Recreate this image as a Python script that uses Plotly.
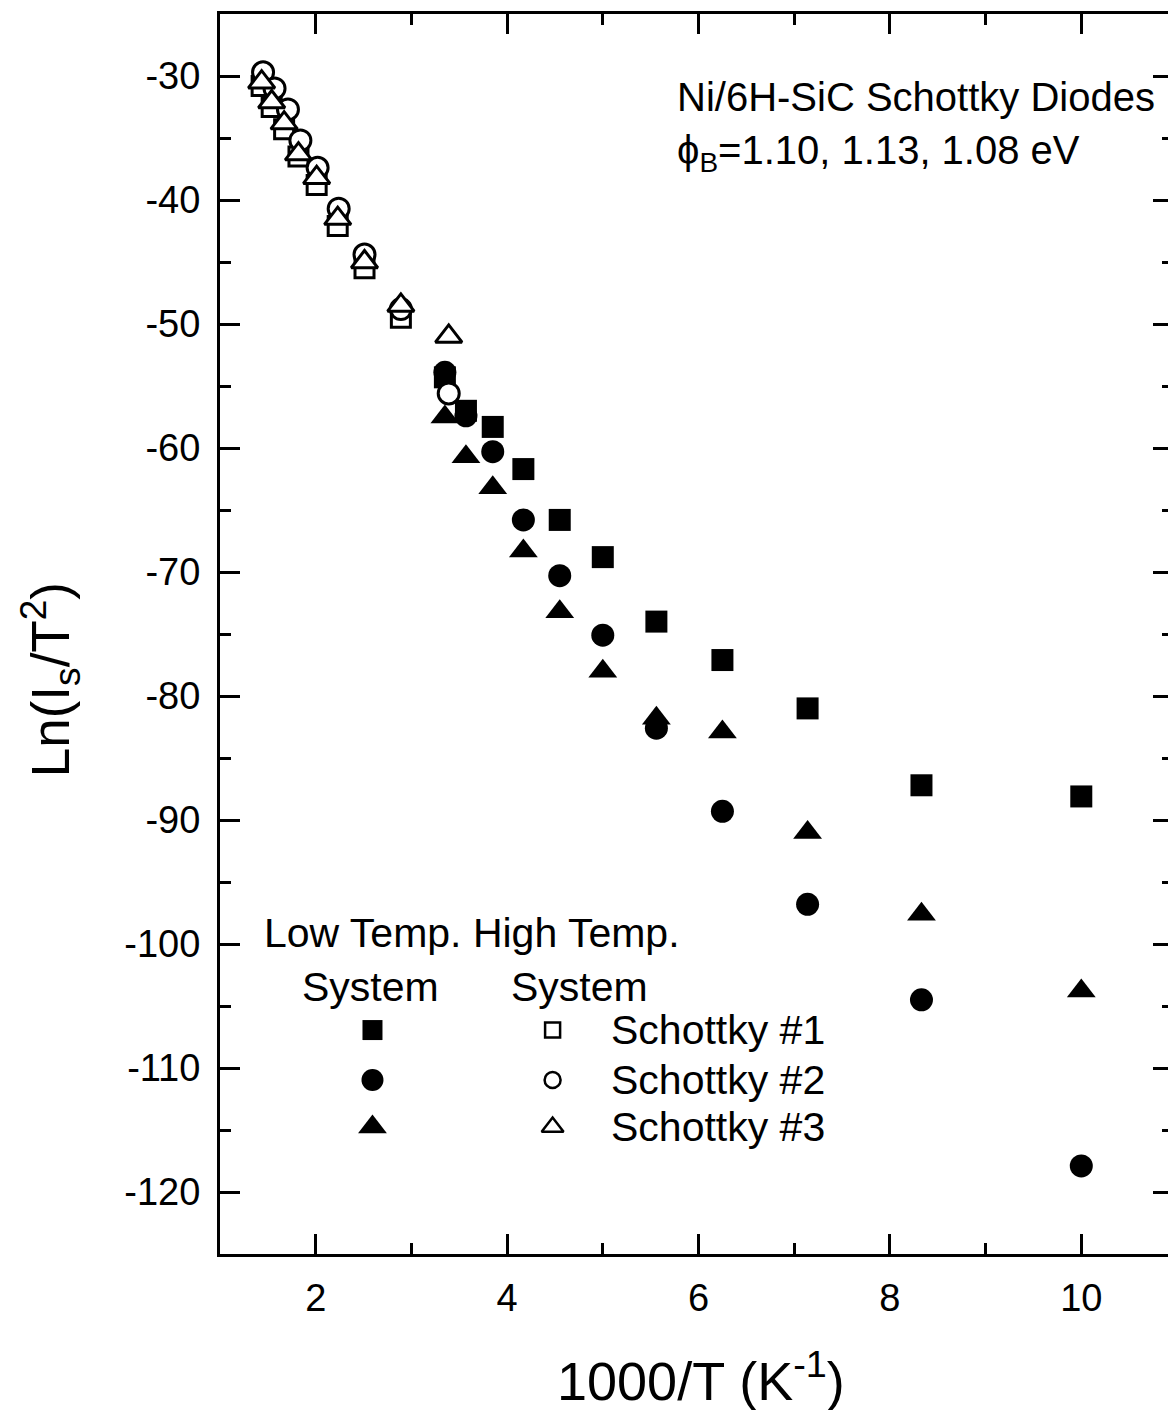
import plotly.graph_objects as go

# ---------------- data ----------------
# Low temperature system (filled symbols)
x_low = [3.35, 3.57, 3.85, 4.17, 4.55, 5.00, 5.56, 6.25, 7.14, 8.33, 10.00]
y_low_s1 = [-54.3, -57.0, -58.3, -61.7, -65.8, -68.8, -74.0, -77.1, -81.0, -87.2, -88.1]
y_low_s2 = [-53.9, -57.4, -60.3, -65.8, -70.3, -75.1, -82.6, -89.3, -96.8, -104.5, -117.9]
y_low_s3 = [-57.5, -60.7, -63.2, -68.3, -73.2, -78.0, -81.8, -82.9, -91.0, -97.6, -103.8]

# High temperature system (open symbols)
x_high_s1 = [1.435, 1.54, 1.67, 1.82, 2.01, 2.23, 2.51, 2.89]
y_high_s1 = [-30.8, -32.5, -34.3, -36.5, -38.8, -42.1, -45.5, -49.5]
x_high_s2 = [1.45, 1.57, 1.71, 1.84, 2.02, 2.24, 2.51, 2.89, 3.39]
y_high_s2 = [-29.7, -31.0, -32.7, -35.2, -37.4, -40.7, -44.4, -48.8, -55.6]
x_high_s3 = [1.435, 1.54, 1.67, 1.82, 2.01, 2.23, 2.51, 2.89, 3.39]
y_high_s3 = [-30.5, -32.1, -33.8, -36.3, -38.2, -41.5, -45.0, -48.5, -51.0]

x_ticks = [2, 4, 6, 8, 10]
x_ticklabels = ["2", "4", "6", "8", "10"]
y_ticks = [-30, -40, -50, -60, -70, -80, -90, -100, -110, -120]
y_ticklabels = ["-30", "-40", "-50", "-60", "-70", "-80", "-90", "-100", "-110", "-120"]

series_names = ["Schottky #1", "Schottky #2", "Schottky #3"]

# ---------------- figure ----------------
FONT = "Liberation Sans, Arial, sans-serif"
fig = go.Figure()

def add(x, y, symbol, size, filled, name):
    if filled:
        marker = dict(symbol=symbol, size=size, color="black", line=dict(width=0))
    else:
        marker = dict(symbol=symbol, size=size, color="white", line=dict(color="black", width=3))
    fig.add_trace(go.Scatter(x=x, y=y, mode="markers", marker=marker, name=name,
                             showlegend=False, cliponaxis=False))

add(x_low, y_low_s1, "square", 22, True, series_names[0])
add(x_low, y_low_s2, "circle", 23, True, series_names[1])
add(x_low, y_low_s3, "triangle-up", 25, True, series_names[2])
add(x_high_s1, y_high_s1, "square", 19, False, series_names[0])
add(x_high_s2, y_high_s2, "circle", 21, False, series_names[1])
add(x_high_s3, y_high_s3, "triangle-up", 23, False, series_names[2])

# legend keys on an overlay 0-1 axis
key_x_low, key_x_high = 0.160, 0.349
key_rows = [0.1806, 0.1403, 0.1024]
key_symbols = ["square", "circle", "triangle-up"]
for sym, yk, sz in zip(key_symbols, key_rows, [20, 22, 25]):
    fig.add_trace(go.Scatter(x=[key_x_low], y=[yk], xaxis="x2", yaxis="y2", mode="markers",
                             marker=dict(symbol=sym, size=sz, color="black"),
                             showlegend=False, hoverinfo="skip"))
for sym, yk, sz in zip(key_symbols, key_rows, [15, 16, 19]):
    fig.add_trace(go.Scatter(x=[key_x_high], y=[yk], xaxis="x2", yaxis="y2", mode="markers",
                             marker=dict(symbol=sym, size=sz, color="white",
                                         line=dict(color="black", width=2.5)),
                             showlegend=False, hoverinfo="skip"))

ann = []
def text(x, y, s, size=41, xanchor="left", yanchor="middle", angle=0):
    ann.append(dict(x=x, y=y, xref="paper", yref="paper", text=s, showarrow=False,
                    xanchor=xanchor, yanchor=yanchor, textangle=angle,
                    font=dict(family=FONT, size=size, color="black")))

text(0.044, 0.2589, "Low Temp. High Temp.")
text(0.0837, 0.2153, "System")
text(0.303, 0.2153, "System")
for nm, yk in zip(series_names, key_rows):
    text(0.408, yk, nm)
text(0.477, 0.933, "Ni/6H-SiC Schottky Diodes", size=40)
text(0.477, 0.888, "ϕ<sub>B</sub>=1.10, 1.13, 1.08 eV", size=40)
text(0.505, -0.099, "1000/T (K<sup>-1</sup>)", size=54, xanchor="center")
text(-0.178, 0.463, "Ln(I<sub>s</sub>/T<sup>2</sup>)", size=53, xanchor="center", angle=-90)

axis_common = dict(showline=True, linewidth=3, linecolor="black", mirror="ticks",
                   ticks="inside", ticklen=20, tickwidth=3, tickcolor="black",
                   showgrid=False, zeroline=False,
                   tickfont=dict(family=FONT, size=38, color="black"))

# the page body adds an 8px offset, so the figure is 8px smaller on each axis
fig.update_layout(
    width=1168, height=1402,
    margin=dict(l=212, r=0, t=6, b=156),
    paper_bgcolor="white", plot_bgcolor="white",
    xaxis=dict(range=[1, 1 + 956 / 96], tickmode="array", tickvals=x_ticks, ticktext=x_ticklabels,
               minor=dict(dtick=1, tick0=0, ticks="inside", ticklen=11, tickwidth=3, tickcolor="black"),
               ticklabelstandoff=8, **axis_common),
    yaxis=dict(range=[-125, -25], tickmode="array", tickvals=y_ticks, ticktext=y_ticklabels,
               minor=dict(dtick=5, tick0=0, ticks="inside", ticklen=11, tickwidth=3, tickcolor="black"),
               ticklabelstandoff=9, **axis_common),
    xaxis2=dict(range=[0, 1], overlaying="x", visible=False, fixedrange=True),
    yaxis2=dict(range=[0, 1], overlaying="y", visible=False, fixedrange=True),
    annotations=ann,
    showlegend=False,
)

fig.write_html("out.html")
